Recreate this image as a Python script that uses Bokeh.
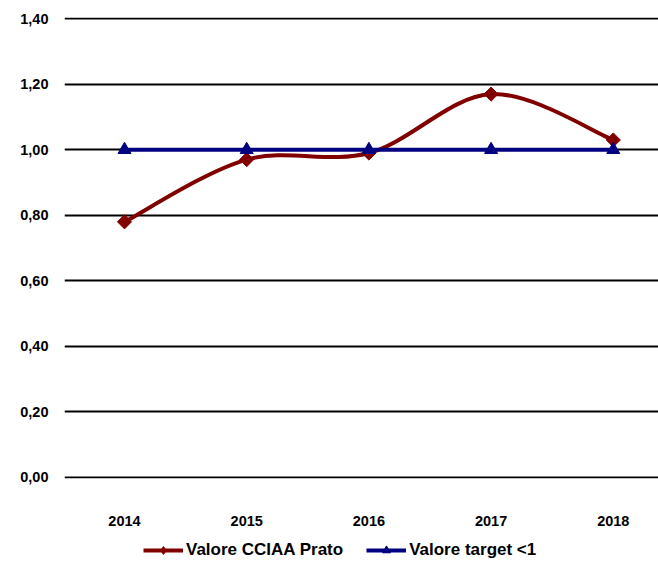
import math
from bokeh.plotting import figure
from bokeh.layouts import column
from bokeh.models import Range1d, FixedTicker, CustomJSTickFormatter, Legend, LegendItem, ColumnDataSource
from bokeh.embed import file_html
from bokeh.resources import INLINE

years = ["2014", "2015", "2016", "2017", "2018"]
cciaa = [0.78, 0.97, 0.99, 1.17, 1.03]
target = [1.00, 1.00, 1.00, 1.00, 1.00]
y_ticks = [0.0, 0.2, 0.4, 0.6, 0.8, 1.0, 1.2, 1.4]
series_names = ["Valore CCIAA Prato", "Valore target <1"]

RED = "#800000"
BLUE = "#000080"
FONT = "Liberation Sans"

xs = list(range(len(years)))


def smooth_segments(xv, yv, t=1.0 / 6.0):
    n = len(xv)
    d = dict(x0=[], y0=[], x1=[], y1=[], cx0=[], cy0=[], cx1=[], cy1=[])
    for i in range(n - 1):
        a = max(i - 1, 0)
        b = min(i + 2, n - 1)
        d["x0"].append(xv[i]); d["y0"].append(yv[i])
        d["x1"].append(xv[i + 1]); d["y1"].append(yv[i + 1])
        d["cx0"].append(xv[i] + (xv[i + 1] - xv[a]) * t)
        d["cy0"].append(yv[i] + (yv[i + 1] - yv[a]) * t)
        d["cx1"].append(xv[i + 1] - (xv[b] - xv[i]) * t)
        d["cy1"].append(yv[i + 1] - (yv[b] - yv[i]) * t)
    return d


p = figure(width=658, height=532, output_backend="svg", toolbar_location=None,
           x_range=Range1d(-0.491, 4.370), y_range=Range1d(-0.004, 1.404),
           min_border_left=64, min_border_right=0, min_border_top=17, min_border_bottom=54)
p.outline_line_color = None
p.xgrid.visible = False
p.ygrid.ticker = FixedTicker(ticks=y_ticks)
p.ygrid.grid_line_color = "black"
p.ygrid.grid_line_width = 2

p.yaxis.ticker = FixedTicker(ticks=y_ticks)
p.yaxis.formatter = CustomJSTickFormatter(code="return tick.toFixed(2).replace('.', ',');")
p.yaxis.axis_line_color = None
p.yaxis.major_tick_line_color = None
p.yaxis.minor_tick_line_color = None
p.yaxis.major_label_standoff = 10
p.yaxis.major_label_text_align = "right"
p.yaxis.major_label_text_font = FONT
p.yaxis.major_label_text_font_style = "bold"
p.yaxis.major_label_text_font_size = "14.5px"
p.yaxis.major_label_text_color = "black"

p.xaxis.ticker = FixedTicker(ticks=xs)
p.xaxis.major_label_overrides = {i: y for i, y in zip(xs, years)}
p.xaxis.axis_line_color = None
p.xaxis.major_tick_line_color = None
p.xaxis.minor_tick_line_color = None
p.xaxis.major_label_standoff = 31
p.xaxis.major_label_text_font = FONT
p.xaxis.major_label_text_font_style = "bold"
p.xaxis.major_label_text_font_size = "14.5px"
p.xaxis.major_label_text_color = "black"

seg = ColumnDataSource(smooth_segments(xs, cciaa))
p.bezier(x0="x0", y0="y0", x1="x1", y1="y1", cx0="cx0", cy0="cy0", cx1="cx1", cy1="cy1",
         source=seg, line_color=RED, line_width=4)
p.scatter(xs, cciaa, marker="square", size=10, angle=math.pi / 4, fill_color=RED, line_color=RED)

p.line(xs, target, line_color=BLUE, line_width=4)
p.scatter(xs, target, marker="triangle", size=13, fill_color=BLUE, line_color=BLUE)

# legend strip below the chart
lg = figure(width=658, height=29, output_backend="svg", toolbar_location=None,
            x_range=Range1d(0, 1), y_range=Range1d(0, 1),
            min_border_left=64, min_border_right=0, min_border_top=0, min_border_bottom=0)
lg.axis.visible = False
lg.grid.visible = False
lg.outline_line_color = None
r1 = lg.line([-10, -9], [-10, -10], line_color=RED, line_width=4)
m1 = lg.scatter([-10], [-10], marker="diamond", size=11, fill_color=RED, line_color=RED)
r2 = lg.line([-10, -9], [-10, -10], line_color=BLUE, line_width=4)
m2 = lg.scatter([-10], [-10], marker="triangle", size=9, fill_color=BLUE, line_color=BLUE)

legend = Legend(items=[
    LegendItem(label=series_names[0], renderers=[r1, m1]),
    LegendItem(label=series_names[1], renderers=[r2, m2]),
], orientation="horizontal", location=(79, 1))
legend.label_text_font = FONT
legend.label_text_font_style = "bold"
legend.label_text_font_size = "17px"
legend.label_text_color = "black"
legend.label_standoff = 3
legend.glyph_width = 40
legend.glyph_height = 20
legend.spacing = 23
legend.padding = 0
legend.margin = 0
legend.border_line_color = None
legend.background_fill_alpha = 0
lg.add_layout(legend, "center")

layout = column(p, lg, spacing=0)
open("out.html", "w").write(file_html(layout, INLINE))
